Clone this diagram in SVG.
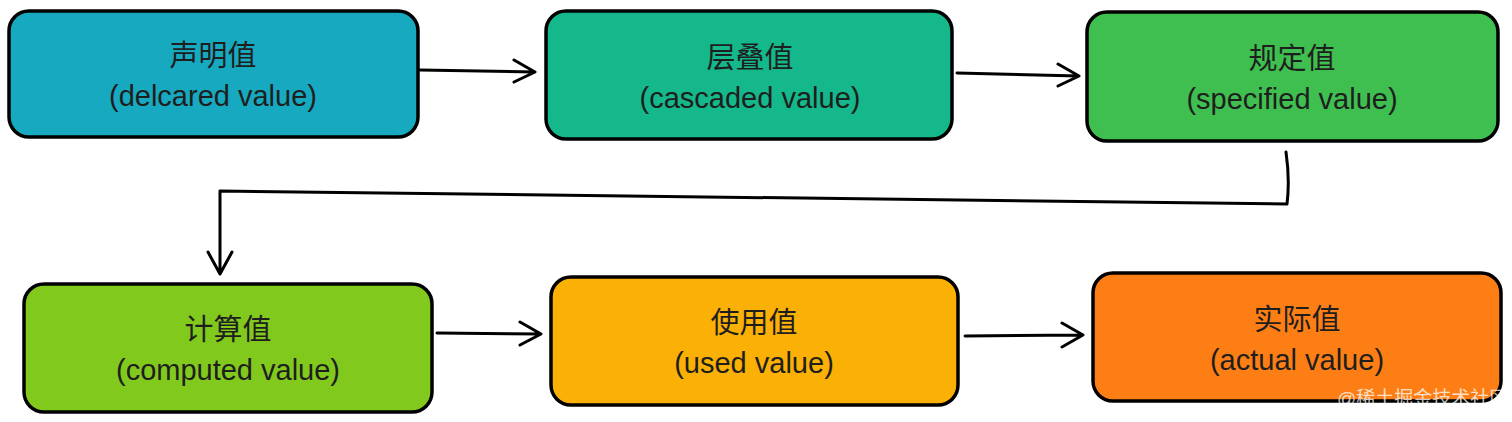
<svg xmlns="http://www.w3.org/2000/svg" width="1512" height="422" viewBox="0 0 1512 422">
<style>
.box{stroke:#000;stroke-width:3.5}
.t{font-family:"Liberation Sans","Noto Sans CJK SC",sans-serif;font-size:29px;fill:#1e1e1e;text-anchor:middle}
.c{fill:none;stroke:#000;stroke-width:3;stroke-linecap:round;stroke-linejoin:round}
.wm{font-family:"Liberation Sans","Noto Sans CJK SC",sans-serif;font-size:19px;fill:#fff;fill-opacity:0.75}
</style>
<rect width="1512" height="422" fill="#fff"/>
<g id="n1"><rect class="box" x="9" y="11" width="409" height="126" rx="20" fill="#17a9c0"/><text class="t" x="213" y="66">声明值</text><text class="t" x="213" y="106">(delcared value)</text></g>
<g id="n2"><rect class="box" x="546" y="11" width="406" height="128" rx="20" fill="#14b88a"/><text class="t" x="750" y="68">层叠值</text><text class="t" x="750" y="108">(cascaded value)</text></g>
<g id="n3"><rect class="box" x="1087" y="12" width="411" height="129" rx="20" fill="#3fbf4f"/><text class="t" x="1292" y="69">规定值</text><text class="t" x="1292" y="109">(specified value)</text></g>
<g id="n4"><rect class="box" x="24" y="284" width="408" height="128" rx="20" fill="#82c91e"/><text class="t" x="228" y="340">计算值</text><text class="t" x="228" y="380">(computed value)</text></g>
<g id="n5"><rect class="box" x="551" y="277" width="407" height="128" rx="20" fill="#fab005"/><text class="t" x="754" y="333">使用值</text><text class="t" x="754" y="373">(used value)</text></g>
<g id="n6"><rect class="box" x="1093" y="273" width="408" height="128" rx="20" fill="#fd7e14"/><text class="t" x="1297" y="330">实际值</text><text class="t" x="1297" y="370">(actual value)</text></g>
<g id="connectors">
<path class="c" d="M420 70 L535 72 M514 60 L535 72 L514 82"/>
<path class="c" d="M957 73 L1079 76 M1058 64 L1079 76 L1058 86"/>
<path class="c" d="M1286 152 Q1290 180 1287 204 L220 191 L220 274 M208 252 L220 274 L232 252"/>
<path class="c" d="M437 333 L541 334 M520 322 L541 334 L520 345"/>
<path class="c" d="M965 336 L1083 335 M1062 323 L1083 335 L1062 347"/>
</g>
<text class="wm" x="1337" y="405">@稀土掘金技术社区</text>
</svg>
